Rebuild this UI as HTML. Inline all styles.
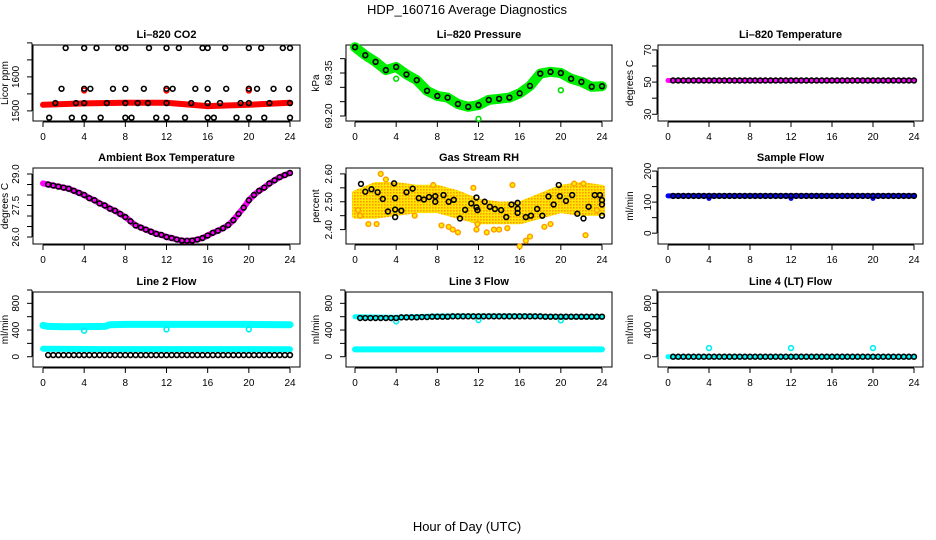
<!DOCTYPE html>
<html><head><meta charset="utf-8"><style>
html,body{margin:0;padding:0;background:#fff;}
svg{display:block;font-family:"Liberation Sans",sans-serif;}
</style></head><body>
<svg id="chart" width="936" height="540" viewBox="0 0 936 540" xmlns="http://www.w3.org/2000/svg">
<defs>
<pattern id="rhpat" width="3" height="3" patternUnits="userSpaceOnUse">
<rect width="3" height="3" fill="#ffe600"/>
<rect width="1.6" height="1.6" fill="#ff9a00"/>
</pattern>
</defs>
<rect width="936" height="540" fill="#fff"/>
<text x="467" y="14" font-size="13" text-anchor="middle">HDP_160716  Average Diagnostics</text>
<text x="467" y="531" font-size="13" text-anchor="middle">Hour of Day (UTC)</text>
</svg>
<script>
// ---- data ----
const xTicks = [0,4,8,12,16,20,24];
const halfHours = [0.5,1,1.5,2,2.5,3,3.5,4,4.5,5,5.5,6,6.5,7,7.5,8,8.5,9,9.5,10,10.5,11,11.5,12,12.5,13,13.5,14,14.5,15,15.5,16,16.5,17,17.5,18,18.5,19,19.5,20,20.5,21,21.5,22,22.5,23,23.5,24];
const hours = [0,1,2,3,4,5,6,7,8,9,10,11,12,13,14,15,16,17,18,19,20,21,22,23,24];

// CO2
const co2BandT = [0,4,8,12,16,20,24];
const co2BandV = [1518,1522,1524,1524,1514,1518,1524];
const co2PtsT = [2.2,4,5.2,7.3,8,10.3,12,13.2,15.5,16,17.7,20,21.2,23.3,24, 1.8,4,4.6,6.8,8,9.8,12,12.6,14.8,16,17.8,20,20.8,22.4,23.9, 1.2,3.2,4,6.2,8,9.2,10.2,12,14.4,16,17.2,19.2,20,22,24, 0.6,2.8,4,5.6,8,8.6,11,12,13.8,16,16.6,18.8,20,21.5,24];
const co2PtsV = [1685,1685,1685,1685,1685,1685,1685,1685,1685,1685,1685,1685,1685,1685,1685, 1565,1565,1565,1565,1565,1565,1565,1565,1565,1565,1565,1565,1565,1565,1565, 1523,1523,1523,1523,1523,1523,1523,1523,1523,1523,1523,1523,1523,1523,1523, 1480,1480,1480,1480,1480,1480,1480,1480,1480,1480,1480,1480,1480,1480,1480];
const co2RedT = [4,12,20];
const co2RedV = [1560,1560,1560];

// Pressure
const presV = [69.44,69.412,69.389,69.36,69.371,69.345,69.325,69.288,69.27,69.264,69.242,69.232,69.238,69.256,69.26,69.264,69.279,69.305,69.348,69.354,69.35,69.33,69.319,69.302,69.304];
const presOutT = [4,12,20];
const presOutV = [69.33,69.19,69.29];

// Li-820 temperature
const tempV = [51,51,51,51,51,51,51,51,51,51,51,51,51,51,51,51,51,51,51,51,51,51,51,51,51,51,51,51,51,51,51,51,51,51,51,51,51,51,51,51,51,51,51,51,51,51,51,51];
const tempBandT = [0,24];
const tempBandV = [51,51];

// Ambient
const ambV = [28.5,28.45,28.4,28.35,28.3,28.2,28.1,28.0,27.85,27.75,27.6,27.5,27.35,27.25,27.1,26.95,26.75,26.55,26.45,26.35,26.25,26.15,26.1,26.0,25.95,25.88,25.83,25.82,25.83,25.88,25.95,26.07,26.2,26.3,26.42,26.57,26.8,27.1,27.4,27.75,28.0,28.2,28.35,28.55,28.7,28.85,28.95,29.05];
const ambBandStartV = [28.55];

// RH
const rhBandT = [0,2,4,6,8,10,12,14,16,18,20,22,24];
const rhUpper = [2.53,2.56,2.56,2.55,2.55,2.53,2.50,2.49,2.49,2.52,2.55,2.56,2.55];
const rhLower = [2.45,2.45,2.46,2.47,2.47,2.45,2.43,2.43,2.43,2.45,2.47,2.46,2.46];
const rhOrT = [2.5,1.3,2.1,7.6,15.3,8.4,9.1,9.5,10.0,11.8,11.9,12.8,13.5,14.0,14.8,16.0,16.6,17.0,18.4,22.4,22.2,21.3,11.5,0.3,0.5,23.5,19.0,5.8,3.0];
const rhOrV = [2.6,2.42,2.42,2.56,2.56,2.415,2.41,2.40,2.39,2.40,2.42,2.39,2.40,2.40,2.405,2.34,2.36,2.375,2.41,2.38,2.565,2.565,2.55,2.47,2.45,2.47,2.42,2.45,2.58];
const rhBkT = [0.58,1.0,1.6,2.2,2.7,3.2,3.8,3.9,3.9,3.9,4.5,5.0,5.6,6.2,6.7,7.2,7.8,7.8,8.6,9.1,9.6,10.2,10.7,11.3,11.8,11.8,11.9,12.6,13.1,13.6,14.2,14.7,15.2,15.8,15.8,15.8,16.6,17.1,17.7,18.2,18.8,19.3,19.8,19.9,20.5,21.1,21.6,22.2,22.7,23.3,23.8,24,24,24];
const rhBkV = [2.564,2.536,2.545,2.534,2.51,2.465,2.566,2.513,2.472,2.445,2.468,2.534,2.547,2.513,2.508,2.517,2.52,2.5,2.524,2.5,2.507,2.44,2.471,2.494,2.515,2.48,2.47,2.5,2.482,2.474,2.47,2.445,2.49,2.496,2.475,2.46,2.445,2.45,2.474,2.45,2.519,2.49,2.56,2.52,2.503,2.524,2.457,2.44,2.482,2.524,2.524,2.506,2.49,2.45];

// Sample flow
const sampV = [120,120,120,120,120,120,120,120,120,120,120,120,120,120,120,120,120,120,120,120,120,120,120,120,120,120,120,120,120,120,120,120,120,120,120,120,120,120,120,120,120,120,120,120,120,120,120,120];
const sampBandT = [0,3.9,4,4.1,11.9,12,12.1,19.9,20,20.1,24];
const sampBandV = [120,120,112,120,120,112,120,120,112,120,120];

// Line 2
const l2BlackV = [25,25,25,25,25,25,25,25,25,25,25,25,25,25,25,25,25,25,25,25,25,25,25,25,25,25,25,25,25,25,25,25,25,25,25,25,25,25,25,25,25,25,25,25,25,25,25,25];
const l2HighT = [0,0.5,2,4,6,6.5,8,12,16,20,24];
const l2HighV = [470,455,448,452,455,480,485,485,485,485,480];
const l2LowT = [0,6,12,18,24];
const l2LowV = [120,115,115,115,112];
const l2DipT = [4,12,20];
const l2DipV = [390,410,410];

// Line 3
const l3BlackV = [580,580,580,580,580,580,580,580,590,590,590,590,595,595,600,600,600,600,605,605,605,605,605,605,605,605,605,605,605,605,605,605,605,605,605,605,600,600,600,600,600,600,600,600,600,600,600,600];
const l3HighT = [0,4,8,12,16,20,24];
const l3HighV = [600,590,610,610,610,600,600];
const l3LowT = [0,24];
const l3LowV = [110,110];
const l3DipT = [4,12,20];
const l3DipV = [530,550,545];

// Line 4
const l4BlackV = [0,0,0,0,0,0,0,0,0,0,0,0,0,0,0,0,0,0,0,0,0,0,0,0,0,0,0,0,0,0,0,0,0,0,0,0,0,0,0,0,0,0,0,0,0,0,0,0];
const l4BandT = [0,24];
const l4BandV = [0,0];
const l4SpikeT = [4,12,20];
const l4SpikeV = [130,130,130];

// ---- drawing ----
const NS = "http://www.w3.org/2000/svg";
const svg = document.getElementById('chart');
const cols = [{l:33,r:300,x0:43,x24:290,tl:19,yl:8},{l:346,r:612,x0:355,x24:602,tl:332,yl:319},{l:658,r:923,x0:668,x24:914,tl:651,yl:633}];
const rows = [{t:45,b:121},{t:168,b:244},{t:292,b:367}];

function el(tag, attrs, parent){
  const e = document.createElementNS(NS, tag);
  for (const k in attrs) e.setAttribute(k, attrs[k]);
  (parent||svg).appendChild(e);
  return e;
}

function makePanel(name, c, r, title, ylab, ymin, ymax, ytickVals, ylabelVals, decimals){
  const C = cols[c], R = rows[r];
  const g = el('g', {});
  
  
  const P = {g:g, C:C, R:R};
  P.sx = t => C.x0 + (t/24)*(C.x24 - C.x0);
  P.sy = v => R.b - 4 - (v - ymin)/(ymax - ymin)*(R.b - R.t - 8);
  const tt = el('text', {x:(C.l+C.r)/2, y:R.t-7, 'font-size':11, 'font-weight':'bold', 'text-anchor':'middle'}, g);
  tt.textContent = title;
  
  
  const box = el('rect', {x:C.l, y:R.t, width:C.r-C.l, height:R.b-R.t, fill:'none', stroke:'#000', 'stroke-width':1}, g);
  
  
  const xa = el('g', {}, g);
  
  
  el('line', {x1:P.sx(0), x2:P.sx(24), y1:R.b+1, y2:R.b+1, stroke:'#000'}, xa);
  xTicks.forEach(t => {
    el('line', {x1:P.sx(t), x2:P.sx(t), y1:R.b+1, y2:R.b+6, stroke:'#000'}, xa);
    const lt = el('text', {x:P.sx(t), y:R.b+19, 'font-size':10, 'text-anchor':'middle'}, xa);
    lt.textContent = t;
  });
  const ya = el('g', {}, g);
  
  
  el('line', {x1:C.l-1, x2:C.l-1, y1:P.sy(ytickVals[0]), y2:P.sy(ytickVals[ytickVals.length-1]), stroke:'#000'}, ya);
  ytickVals.forEach(v => {
    el('line', {x1:C.l-6, x2:C.l-1, y1:P.sy(v), y2:P.sy(v), stroke:'#000'}, ya);
  });
  ylabelVals.forEach(v => {
    const y = P.sy(v);
    const lt = el('text', {x:C.tl, y:y, 'font-size':10, 'text-anchor':'middle', transform:`rotate(-90 ${C.tl} ${y})`}, ya);
    lt.textContent = v.toFixed(decimals);
  });
  const yt = el('text', {x:C.yl, y:(R.t+R.b)/2, 'font-size':10, 'text-anchor':'middle', transform:`rotate(-90 ${C.yl} ${(R.t+R.b)/2})`}, g);
  yt.textContent = ylab;
  
  
  return P;
}

function band(P, name, ts, vs, color, w){
  const d = ts.map((t,i)=> (i?'L':'M') + P.sx(t).toFixed(1) + ',' + P.sy(vs[i]).toFixed(1)).join(' ');
  const p = el('path', {d:d, fill:'none', stroke:color, 'stroke-width':w, 'stroke-linejoin':'round', 'stroke-linecap':'round'}, P.g);
  
  
}
function circles(P, name, ts, vs, color, fill, sw){
  const g = el('g', {}, P.g);
  
  
  ts.forEach((t,i)=>{
    el('circle', {cx:P.sx(t), cy:P.sy(vs[i]), r:2.4, fill:fill||'none', stroke:color, 'stroke-width':sw||1.6}, g);
  });
}

let P = makePanel('co2', 0, 0, 'Li\u2013820 CO2', 'Licor ppm', 1482, 1682, [1500,1550,1600,1650,1700], [1500,1600], 0);
band(P, 'co2-red-band', co2BandT, co2BandV, '#ff0000', 6);
circles(P, 'co2-red-points', co2RedT, co2RedV, '#ff0000');
circles(P, 'co2-black-points', co2PtsT, co2PtsV, '#000');

P = makePanel('pressure', 1, 0, 'Li\u2013820 Pressure', 'kPa', 69.1965, 69.4337, [69.20,69.25,69.30,69.35,69.40], [69.20,69.35], 2);
band(P, 'pressure-green-band', hours, presV, '#00ee00', 10);
circles(P, 'pressure-green-outliers', presOutT, presOutV, '#00dd00');
circles(P, 'pressure-black-points', hours, presV, '#000');

P = makePanel('li820-temp', 2, 0, 'Li\u2013820 Temperature', 'degrees C', 28.3, 70.57, [30,40,50,60,70], [30,50,70], 0);
band(P, 'li820-temp-magenta-band', tempBandT, tempBandV, '#ff00ff', 5);
circles(P, 'li820-temp-black-points', halfHours, tempV, '#000');

P = makePanel('ambient', 0, 1, 'Ambient Box Temperature', 'degrees C', 25.857, 29.095, [26.0,26.5,27.0,27.5,28.0,28.5,29.0], [26.0,27.5,29.0], 1);
band(P, 'ambient-magenta-band', [0].concat(halfHours), ambBandStartV.concat(ambV), '#ff00ff', 6);
circles(P, 'ambient-black-points', halfHours, ambV, '#000');

P = makePanel('rh', 1, 1, 'Gas Stream RH', 'percent', 2.3627, 2.6068, [2.40,2.45,2.50,2.55,2.60], [2.40,2.50,2.60], 2);
(function(){
  const up = rhBandT.map((t,i)=>P.sx(t).toFixed(1)+','+P.sy(rhUpper[i]).toFixed(1));
  const lo = rhBandT.map((t,i)=>P.sx(t).toFixed(1)+','+P.sy(rhLower[i]).toFixed(1)).reverse();
  const poly = el('polygon', {points:up.concat(lo).join(' '), fill:'url(#rhpat)', stroke:'url(#rhpat)', 'stroke-width':6, 'stroke-linejoin':'round'}, P.g);
  
  
})();
circles(P, 'rh-orange-points', rhOrT, rhOrV, '#ff9900', '#ffee00', 1.4);
circles(P, 'rh-black-points', rhBkT, rhBkV, '#000');

P = makePanel('sample-flow', 2, 1, 'Sample Flow', 'ml/min', -22, 197, [0,50,100,150,200], [0,100,200], 0);
band(P, 'sample-flow-blue-band', sampBandT, sampBandV, '#0000ff', 5);
circles(P, 'sample-flow-black-points', halfHours, sampV, '#000');

P = makePanel('line2', 0, 2, 'Line 2 Flow', 'ml/min', -94, 910, [0,200,400,600,800,1000], [0,400,800], 0);
band(P, 'line2-cyan-high', l2HighT, l2HighV, '#00ffff', 7);
band(P, 'line2-cyan-low', l2LowT, l2LowV, '#00ffff', 6);
circles(P, 'line2-cyan-dips', l2DipT, l2DipV, '#00eeee');
circles(P, 'line2-black-points', halfHours, l2BlackV, '#000');

P = makePanel('line3', 1, 2, 'Line 3 Flow', 'ml/min', -94, 910, [0,200,400,600,800,1000], [0,400,800], 0);
band(P, 'line3-cyan-low', l3LowT, l3LowV, '#00ffff', 6);
band(P, 'line3-cyan-high', l3HighT, l3HighV, '#00ffff', 5);
circles(P, 'line3-cyan-dips', l3DipT, l3DipV, '#00eeee');
circles(P, 'line3-black-points', halfHours, l3BlackV, '#000');

P = makePanel('line4', 2, 2, 'Line 4 (LT) Flow', 'ml/min', -94, 910, [0,200,400,600,800,1000], [0,400,800], 0);
band(P, 'line4-cyan-band', l4BandT, l4BandV, '#00ffff', 5);
circles(P, 'line4-cyan-spikes', l4SpikeT, l4SpikeV, '#00eeee');
circles(P, 'line4-black-points', halfHours, l4BlackV, '#000');
</script>
</body></html>
